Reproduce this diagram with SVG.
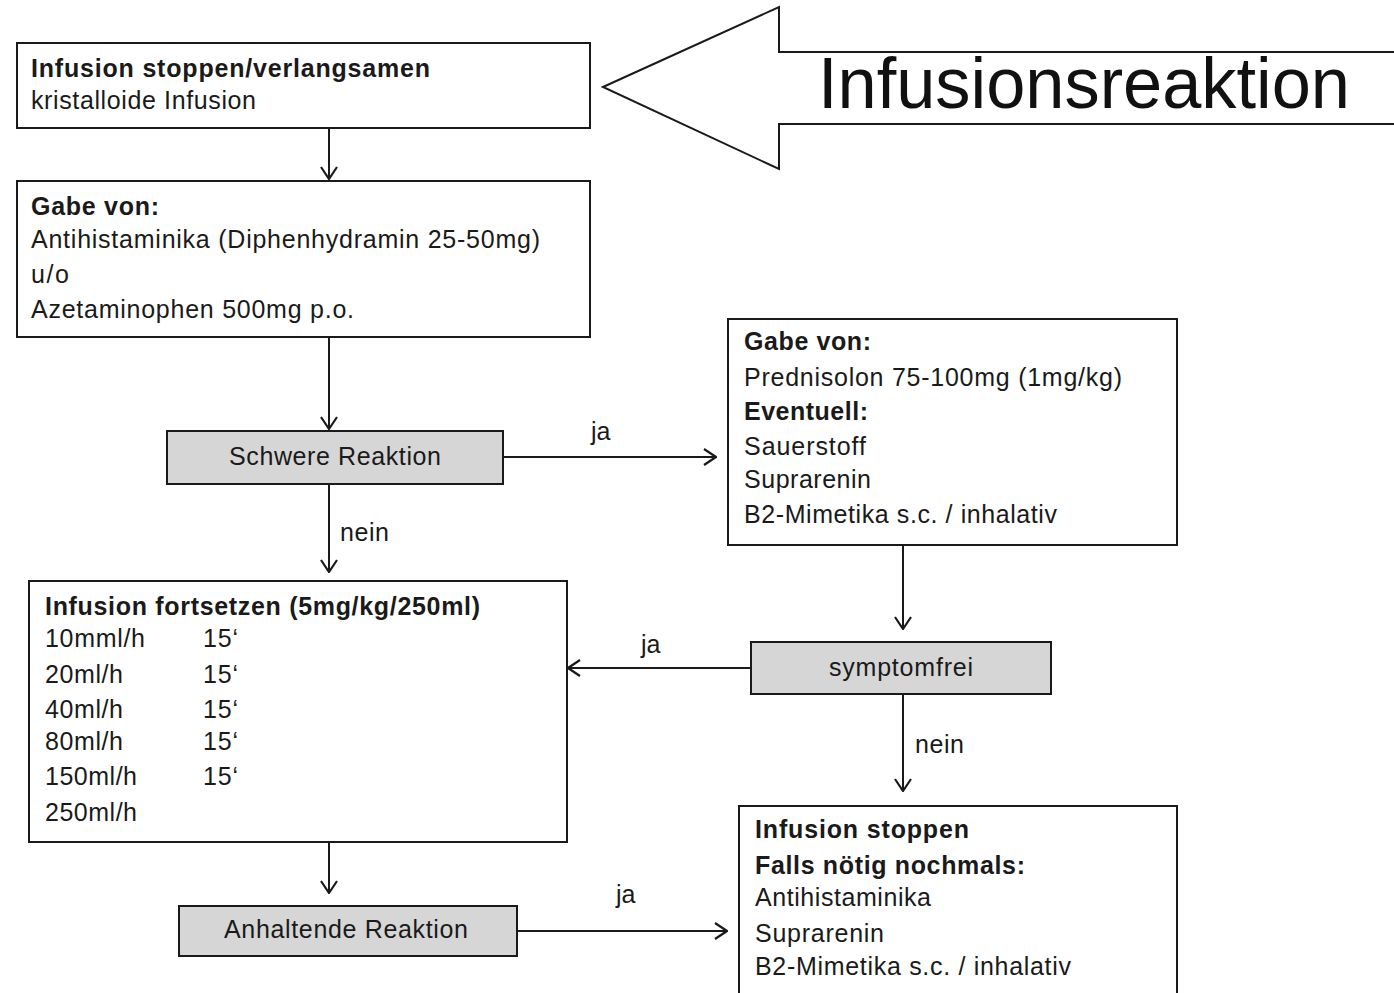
<svg xmlns="http://www.w3.org/2000/svg" width="1394" height="993" viewBox="0 0 1394 993">
<defs>
<marker id="arr" viewBox="0 0 14 18" refX="13" refY="9" markerWidth="14" markerHeight="18" markerUnits="userSpaceOnUse" orient="auto">
<path d="M1,1 L13,9 L1,17" fill="none" stroke="#1a1a1a" stroke-width="2.2"/>
</marker>
<style>
.box{fill:#fff;stroke:#1a1a1a;stroke-width:2}
.dec{fill:#d6d6d6;stroke:#1a1a1a;stroke-width:2}
.t{font-family:"Liberation Sans",Arial,sans-serif;font-size:25px;fill:#1a1a1a}
.b{font-weight:bold}
.c{text-anchor:middle}
.ln{stroke:#1a1a1a;stroke-width:2;fill:none;marker-end:url(#arr)}
</style>
</defs>
<rect width="1394" height="993" fill="#fff"/>

<g id="title">
<polygon points="603,87 779,7 779,52 1400,52 1400,124 779,124 779,169" fill="#fff" stroke="#1a1a1a" stroke-width="2"/>
<text x="818" y="108" font-family="Liberation Sans,Arial,sans-serif" font-size="72" fill="#111" textLength="532" lengthAdjust="spacingAndGlyphs">Infusionsreaktion</text>
</g>

<g id="n1">
<rect class="box" x="17" y="43" width="573" height="85"/>
<text class="t b" x="31" y="77" textLength="399">Infusion stoppen/verlangsamen</text>
<text class="t" x="31" y="109" textLength="225">kristalloide Infusion</text>
</g>

<g id="n2">
<rect class="box" x="17" y="181" width="573" height="156"/>
<text class="t b" x="31" y="215" textLength="128">Gabe von:</text>
<text class="t" x="31" y="248" textLength="509">Antihistaminika (Diphenhydramin 25-50mg)</text>
<text class="t" x="31" y="283" textLength="38">u/o</text>
<text class="t" x="31" y="318" textLength="323">Azetaminophen 500mg p.o.</text>
</g>

<g id="n3">
<rect class="dec" x="167" y="431" width="336" height="53"/>
<text class="t c" x="335" y="465" textLength="212">Schwere Reaktion</text>
</g>

<g id="n4">
<rect class="box" x="728" y="319" width="449" height="226"/>
<text class="t b" x="744" y="350" textLength="127">Gabe von:</text>
<text class="t" x="744" y="386" textLength="378">Prednisolon 75-100mg (1mg/kg)</text>
<text class="t b" x="744" y="420" textLength="124">Eventuell:</text>
<text class="t" x="744" y="455" textLength="122">Sauerstoff</text>
<text class="t" x="744" y="488" textLength="127">Suprarenin</text>
<text class="t" x="744" y="523" textLength="313">B2-Mimetika s.c. / inhalativ</text>
</g>

<g id="n5">
<rect class="box" x="29" y="581" width="538" height="261"/>
<text class="t b" x="45" y="615" textLength="435">Infusion fortsetzen (5mg/kg/250ml)</text>
<text class="t" x="45" y="647" textLength="100">10mml/h</text>
<text class="t" x="45" y="683" textLength="78">20ml/h</text>
<text class="t" x="45" y="718" textLength="78">40ml/h</text>
<text class="t" x="45" y="750" textLength="78">80ml/h</text>
<text class="t" x="45" y="785" textLength="92">150ml/h</text>
<text class="t" x="45" y="821" textLength="92">250ml/h</text>
<text class="t" x="203" y="647" textLength="35">15‘</text>
<text class="t" x="203" y="683" textLength="35">15‘</text>
<text class="t" x="203" y="718" textLength="35">15‘</text>
<text class="t" x="203" y="750" textLength="35">15‘</text>
<text class="t" x="203" y="785" textLength="35">15‘</text>
</g>

<g id="n6">
<rect class="dec" x="751" y="642" width="300" height="52"/>
<text class="t c" x="901" y="676" textLength="144">symptomfrei</text>
</g>

<g id="n7">
<rect class="box" x="739" y="806" width="438" height="200"/>
<text class="t b" x="755" y="838" textLength="214">Infusion stoppen</text>
<text class="t b" x="755" y="874" textLength="270">Falls nötig nochmals:</text>
<text class="t" x="755" y="906" textLength="176">Antihistaminika</text>
<text class="t" x="755" y="942" textLength="129">Suprarenin</text>
<text class="t" x="755" y="975" textLength="316">B2-Mimetika s.c. / inhalativ</text>
</g>

<g id="n8">
<rect class="dec" x="179" y="906" width="338" height="50"/>
<text class="t c" x="346" y="938" textLength="244">Anhaltende Reaktion</text>
</g>

<g id="connectors">
<line class="ln" x1="329" y1="129" x2="329" y2="179"/>
<line class="ln" x1="329" y1="338" x2="329" y2="429"/>
<line class="ln" x1="504" y1="457" x2="716" y2="457"/>
<line class="ln" x1="329" y1="485" x2="329" y2="572"/>
<line class="ln" x1="903" y1="546" x2="903" y2="629"/>
<line class="ln" x1="750" y1="668" x2="568" y2="668"/>
<line class="ln" x1="903" y1="695" x2="903" y2="791"/>
<line class="ln" x1="329" y1="843" x2="329" y2="893"/>
<line class="ln" x1="518" y1="931" x2="727" y2="931"/>
<text class="t" x="591" y="440">ja</text>
<text class="t" x="340" y="541" textLength="49">nein</text>
<text class="t" x="641" y="653">ja</text>
<text class="t" x="915" y="753" textLength="49">nein</text>
<text class="t" x="616" y="903">ja</text>
</g>
</svg>
